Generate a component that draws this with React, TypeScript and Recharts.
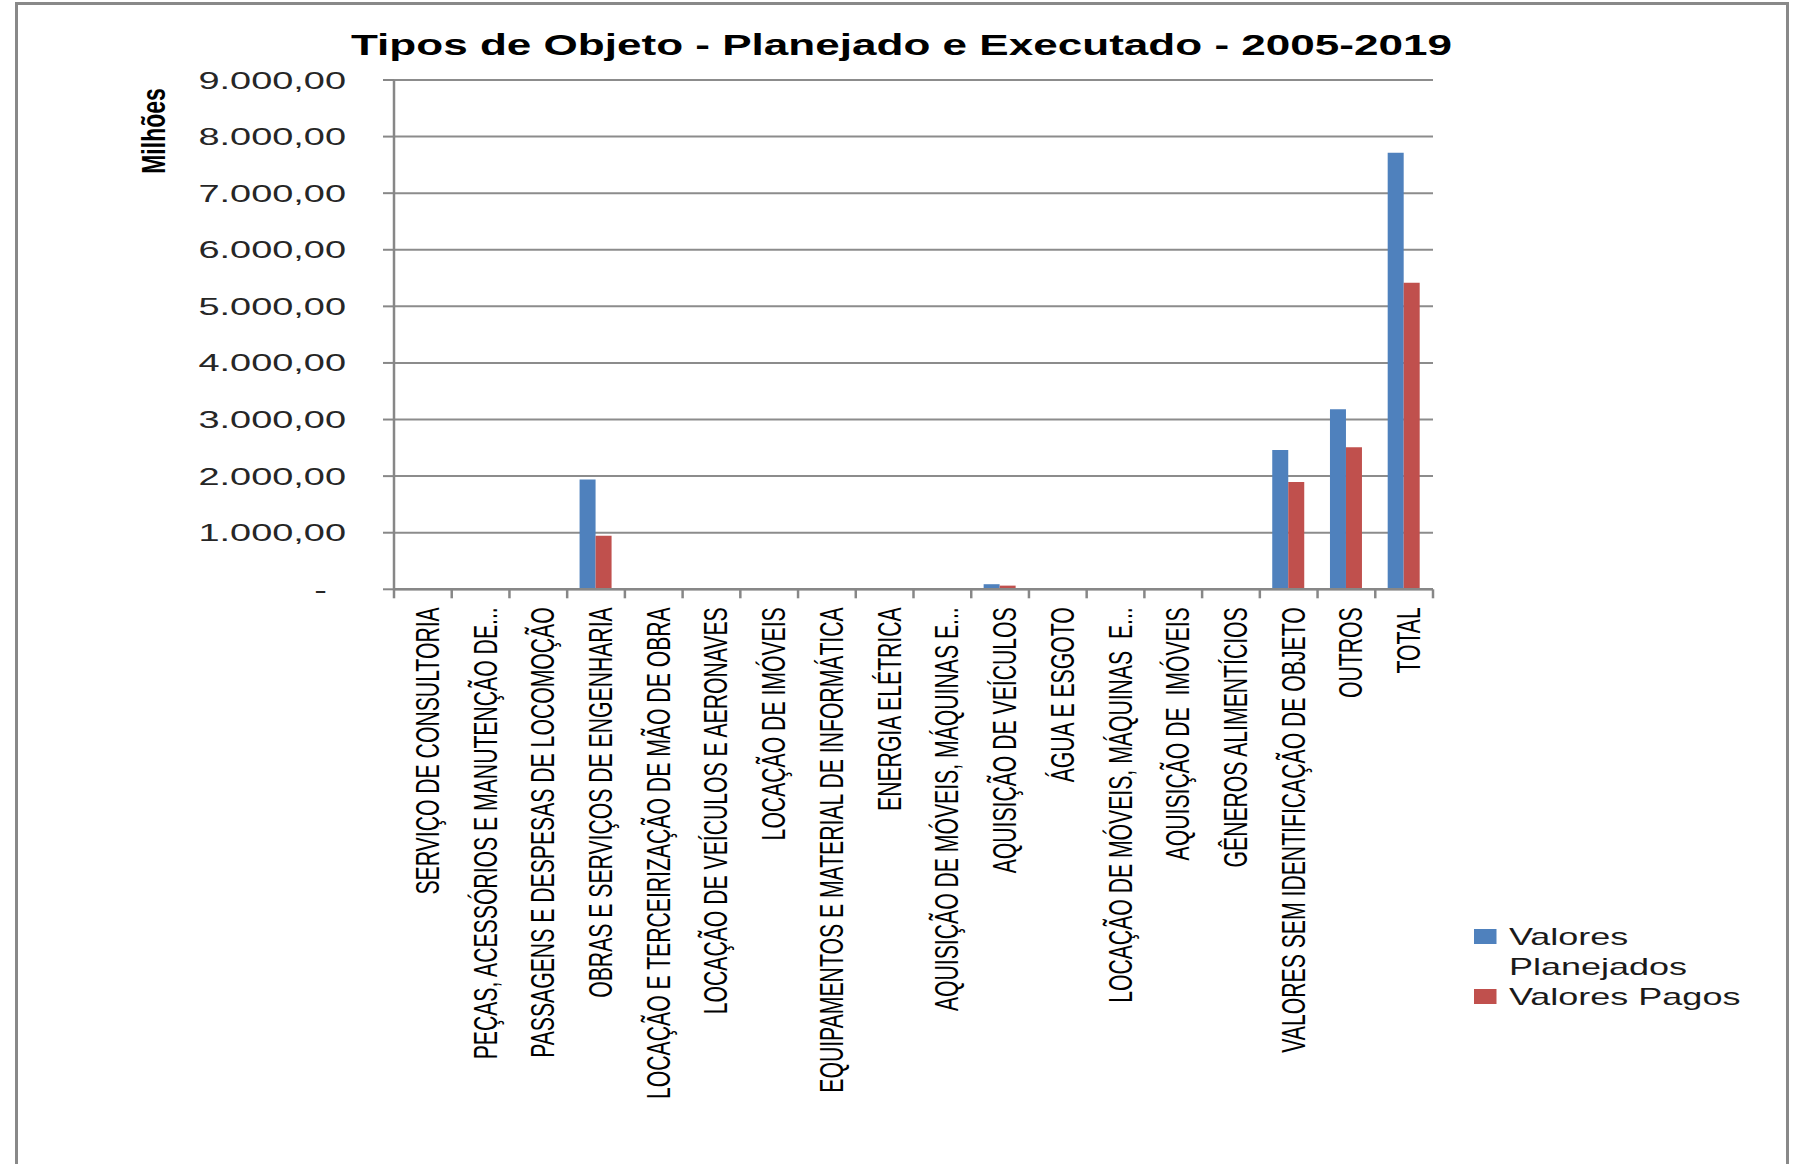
import React from 'react';
import { BarChart, Bar, XAxis, YAxis, CartesianGrid, Legend } from 'recharts';

// ---------- data ----------
const categories = [
  'SERVIÇO DE CONSULTORIA',
  'PEÇAS, ACESSÓRIOS E MANUTENÇÃO DE...',
  'PASSAGENS E DESPESAS DE LOCOMOÇÃO',
  'OBRAS E SERVIÇOS DE ENGENHARIA',
  'LOCAÇÃO E TERCEIRIZAÇÃO DE MÃO DE OBRA',
  'LOCAÇÃO DE VEÍCULOS E AERONAVES',
  'LOCAÇÃO DE IMÓVEIS',
  'EQUIPAMENTOS E MATERIAL DE INFORMÁTICA',
  'ENERGIA ELÉTRICA',
  'AQUISIÇÃO DE MÓVEIS, MÁQUINAS E...',
  'AQUISIÇÃO DE VEÍCULOS',
  'ÁGUA E ESGOTO',
  'LOCAÇÃO DE MÓVEIS, MÁQUINAS  E...',
  'AQUISIÇÃO DE  IMÓVEIS',
  'GÊNEROS ALIMENTÍCIOS',
  'VALORES SEM IDENTIFICAÇÃO DE OBJETO',
  'OUTROS',
  'TOTAL',
];
const valoresPlanejados = [0, 0, 0, 1940, 0, 0, 0, 0, 0, 0, 90, 0, 0, 0, 0, 2460, 3180, 7715];
const valoresPagos = [0, 0, 0, 945, 0, 0, 0, 0, 0, 0, 65, 0, 0, 0, 0, 1895, 2510, 5415];
const yTicks = [0, 1000, 2000, 3000, 4000, 5000, 6000, 7000, 8000, 9000];
const yTickLabels = ['-', '1.000,00', '2.000,00', '3.000,00', '4.000,00', '5.000,00', '6.000,00', '7.000,00', '8.000,00', '9.000,00'];
const seriesNames = ['Valores Planejados', 'Valores Pagos'];
const title = 'Tipos de Objeto - Planejado e Executado - 2005-2019';
const yAxisTitle = 'Milhões';

const data = categories.map((name, i) => ({
  name,
  planejado: valoresPlanejados[i],
  pagos: valoresPagos[i],
}));

// ---------- layout ----------
const W = 1795;
const H = 1164;
const PLOT_LEFT = 394;
const PLOT_RIGHT = 1433;
const PLOT_TOP = 80;
const PLOT_BOTTOM = 589.3;
const BAND = (PLOT_RIGHT - PLOT_LEFT) / categories.length;
const AXIS_COLOR = '#878787';
const GRID_COLOR = '#8c8c8c';
const FONT = "'Liberation Sans', Arial, sans-serif";

const XTick = (props: any) => {
  const { x, y, payload, index } = props;
  const half = BAND / 2;
  return (
    <g>
      <line x1={x - half} x2={x - half} y1={y} y2={y + 9} stroke={AXIS_COLOR} strokeWidth={2.5} />
      {index === categories.length - 1 && (
        <line x1={x + half} x2={x + half} y1={y} y2={y + 9} stroke={AXIS_COLOR} strokeWidth={2.5} />
      )}
      <g transform={`translate(${x + 16},${y + 18})`}>
        <text
          x={0}
          y={0}
          transform="rotate(-90) scale(1,1.6)"
          textAnchor="end"
          fontFamily={FONT}
          fontSize={21.2}
          fill="#000"
          style={{ whiteSpace: 'pre' }}
        >
          {payload.value}
        </text>
      </g>
    </g>
  );
};

const YTick = (props: any) => {
  const { x, y, payload } = props;
  const idx = yTicks.indexOf(payload.value);
  const label = idx >= 0 ? yTickLabels[idx] : String(payload.value);
  const dx = payload.value === 0 ? -19 : 0;
  return (
    <g transform={`translate(${x + dx},${y}) scale(1.58,1)`}>
      <text x={0} y={0} dy="0.355em" textAnchor="end" fontFamily={FONT} fontSize={24} fill="#262626">
        {label}
      </text>
    </g>
  );
};

const YLabel = (props: any) => {
  const vb = props.viewBox || { x: 0, y: PLOT_TOP, width: PLOT_LEFT, height: PLOT_BOTTOM - PLOT_TOP };
  const cx = vb.x + 165;
  const cy = vb.y + 51;
  return (
    <g transform={`translate(${cx},${cy})`}>
      <text
        x={0}
        y={0}
        transform="rotate(-90) scale(1,1.45)"
        textAnchor="middle"
        fontFamily={FONT}
        fontWeight="bold"
        fontSize={23}
        fill="#000"
      >
        {yAxisTitle}
      </text>
    </g>
  );
};

const LegendContent = (props: any) => {
  const payload = [...(props.payload || [])].sort(
    (a: any, b: any) => seriesNames.indexOf(a.value) - seriesNames.indexOf(b.value)
  );
  return (
    <div style={{ transform: 'scaleX(1.5)', transformOrigin: 'left top', width: 220 }}>
      {payload.map((p: any, i: number) => (
        <div key={i} style={{ display: 'flex', alignItems: 'flex-start' }}>
          <div style={{ width: 15.3, height: 15, background: p.color, marginTop: 7, flex: 'none' }} />
          <div
            style={{
              marginLeft: 8,
              width: 180,
              fontFamily: FONT,
              fontSize: 24,
              lineHeight: '30px',
              color: '#1a1a1a',
            }}
          >
            {p.value}
          </div>
        </div>
      ))}
    </div>
  );
};

export default function App() {
  return (
    <div
      style={{
        position: 'absolute',
        left: 0,
        top: 0,
        width: W,
        height: H,
        overflow: 'hidden',
        background: '#fff',
      }}
    >
      <div
        style={{
          position: 'absolute',
          left: 15,
          top: 2,
          width: 1768,
          height: 1300,
          border: '3px solid #898989',
          boxSizing: 'content-box',
        }}
      />
      <div style={{ position: 'absolute', left: 0, top: 0 }}>
        <BarChart
          width={W}
          height={H}
          data={data}
          margin={{ top: PLOT_TOP, right: W - PLOT_RIGHT, bottom: 0, left: 0 }}
          barCategoryGap="21.5%"
          barGap={0}
        >
          <CartesianGrid vertical={false} stroke={GRID_COLOR} strokeWidth={2} />
          <XAxis
            dataKey="name"
            interval={0}
            tick={(p: any) => <XTick {...p} />}
            tickLine={false}
            tickSize={0}
            tickMargin={0}
            height={H - PLOT_BOTTOM}
            axisLine={{ stroke: AXIS_COLOR, strokeWidth: 2.5 }}
          />
          <YAxis
            width={PLOT_LEFT}
            domain={[0, 9000]}
            ticks={yTicks}
            interval={0}
            tickSize={11}
            tickMargin={37}
            tick={(p: any) => <YTick {...p} />}
            tickLine={{ stroke: AXIS_COLOR, strokeWidth: 2 }}
            axisLine={{ stroke: AXIS_COLOR, strokeWidth: 2.5 }}
            label={{ content: (p: any) => <YLabel {...p} /> }}
          />
          <Legend
            layout="vertical"
            align="center"
            verticalAlign="middle"
            content={(p: any) => <LegendContent {...p} />}
            wrapperStyle={{ position: 'absolute', left: 1474, top: 922, width: 320 }}
          />
          <Bar dataKey="planejado" name={seriesNames[0]} fill="#4F81BD" isAnimationActive={false} />
          <Bar dataKey="pagos" name={seriesNames[1]} fill="#C0504D" isAnimationActive={false} />
        </BarChart>
      </div>
      <svg
        width={W}
        height={H}
        style={{ position: 'absolute', left: 0, top: 0, pointerEvents: 'none' }}
      >
        <g transform="translate(901.5,55) scale(1.53,1)">
          <text x={0} y={0} textAnchor="middle" fontFamily={FONT} fontWeight="bold" fontSize={28.8} fill="#000">
            {title}
          </text>
        </g>
      </svg>
    </div>
  );
}
